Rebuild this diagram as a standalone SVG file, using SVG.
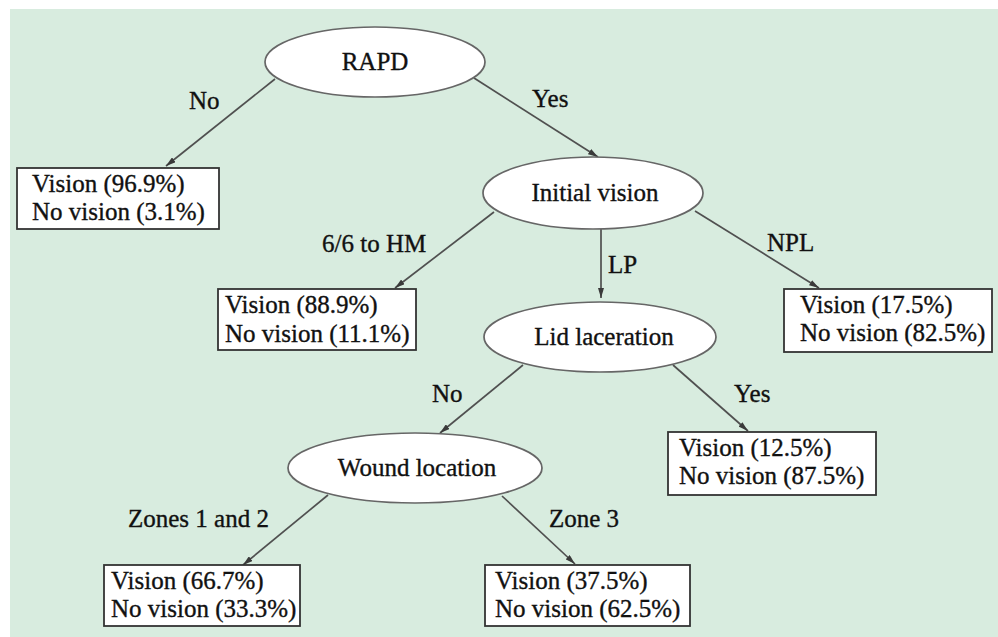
<svg xmlns="http://www.w3.org/2000/svg" width="998" height="637" viewBox="0 0 998 637">
<style>
text{font-family:"Liberation Serif","Times New Roman",serif;font-size:25px;fill:#111;stroke:#111;stroke-width:0.35px}
.ell{fill:#fff;stroke:#666;stroke-width:1.7}
.box{fill:#fff;stroke:#333;stroke-width:1.8}
.edge{stroke:#505050;stroke-width:1.7;fill:none;marker-end:url(#arr)}
.c{text-anchor:middle}
</style>
<defs>
<marker id="arr" viewBox="0 0 10 6" refX="10" refY="3" markerWidth="10" markerHeight="6" markerUnits="userSpaceOnUse" orient="auto">
<path d="M0,0 L10,3 L0,6 Z" fill="#3a3a3a"/>
</marker>
</defs>
<rect x="0" y="0" width="998" height="637" fill="#fff"/>
<rect x="10" y="9" width="988" height="628" fill="#d8ecdf"/>
<g id="connectors">
<line class="edge" x1="275" y1="79" x2="166" y2="166"/>
<line class="edge" x1="474" y1="78" x2="598" y2="157"/>
<line class="edge" x1="494" y1="212" x2="395" y2="288"/>
<line class="edge" x1="601" y1="229" x2="601" y2="298"/>
<line class="edge" x1="695" y1="211" x2="819" y2="288"/>
<line class="edge" x1="523" y1="365" x2="440" y2="433"/>
<line class="edge" x1="673" y1="365" x2="748" y2="431"/>
<line class="edge" x1="328" y1="495" x2="243" y2="565"/>
<line class="edge" x1="502" y1="496" x2="575" y2="564"/>
<text x="189" y="109">No</text>
<text x="532" y="107">Yes</text>
<text x="322" y="252">6/6 to HM</text>
<text x="608" y="273">LP</text>
<text x="767" y="251">NPL</text>
<text x="432" y="402">No</text>
<text x="734" y="402">Yes</text>
<text x="128" y="527">Zones 1 and 2</text>
<text x="549" y="527">Zone 3</text>
</g>
<g id="rapd">
<ellipse class="ell" cx="375" cy="62" rx="110" ry="35"/>
<text class="c" x="375" y="70">RAPD</text>
</g>
<g id="initial-vision">
<ellipse class="ell" cx="593" cy="193" rx="110" ry="36"/>
<text class="c" x="595" y="201">Initial vision</text>
</g>
<g id="lid-laceration">
<ellipse class="ell" cx="600" cy="337" rx="116" ry="35"/>
<text class="c" x="604" y="345">Lid laceration</text>
</g>
<g id="wound-location">
<ellipse class="ell" cx="415" cy="468" rx="127" ry="35"/>
<text class="c" x="417" y="476">Wound location</text>
</g>
<g id="leaf-rapd-no">
<rect class="box" x="17" y="168" width="202" height="61"/>
<text x="32" y="192">Vision (96.9%)</text>
<text x="32" y="220">No vision (3.1%)</text>
</g>
<g id="leaf-6-6-hm">
<rect class="box" x="218" y="289" width="198" height="61"/>
<text x="225" y="313">Vision (88.9%)</text>
<text x="225" y="342">No vision (11.1%)</text>
</g>
<g id="leaf-npl">
<rect class="box" x="784" y="289" width="208" height="63"/>
<text x="800" y="313">Vision (17.5%)</text>
<text x="800" y="341">No vision (82.5%)</text>
</g>
<g id="leaf-lid-yes">
<rect class="box" x="668" y="432" width="208" height="63"/>
<text x="679" y="456">Vision (12.5%)</text>
<text x="679" y="484">No vision (87.5%)</text>
</g>
<g id="leaf-zones-1-2">
<rect class="box" x="104" y="565" width="196" height="61"/>
<text x="111" y="589">Vision (66.7%)</text>
<text x="111" y="617">No vision (33.3%)</text>
</g>
<g id="leaf-zone-3">
<rect class="box" x="485" y="565" width="205" height="61"/>
<text x="495" y="589">Vision (37.5%)</text>
<text x="495" y="617">No vision (62.5%)</text>
</g>
</svg>
